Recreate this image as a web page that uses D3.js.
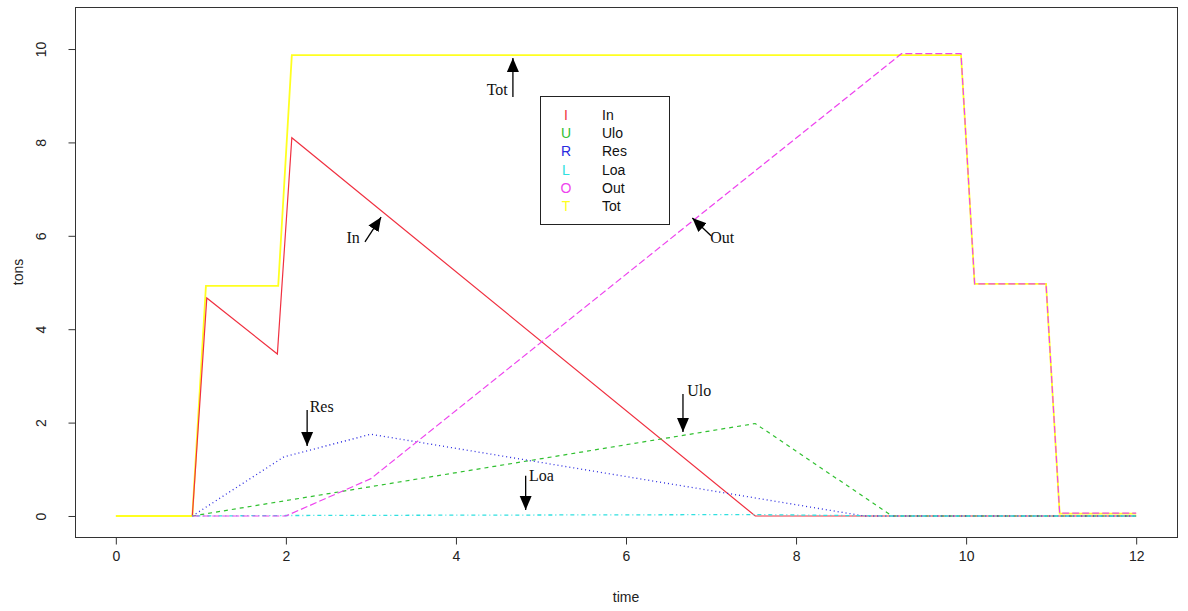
<!DOCTYPE html>
<html>
<head>
<meta charset="utf-8">
<script src="https://cdn.jsdelivr.net/npm/d3@7"></script>
<style>
  html, body { margin: 0; padding: 0; background: #fff; }
  svg { display: block; }
</style>
</head>
<body>
<svg id="chart" width="1188" height="611"></svg>
<script>
// ---- data ----
const timeTot = [0, 0.9, 1.06, 1.91, 2.07, 9.94, 10.1, 10.94, 11.1, 12];
const valTot  = [0, 0, 4.93, 4.93, 9.87, 9.87, 4.97, 4.97, 0.05, 0.05];

const timeIn = [0.9, 1.07, 1.9, 2.07, 7.52, 12];
const valIn  = [0, 4.67, 3.47, 8.1, 0, 0];

const timeUlo = [0.9, 7.52, 9.13, 12];
const valUlo  = [0, 1.98, 0, 0];

const timeRes = [0.9, 1.98, 3.0, 8.8, 12];
const valRes  = [0, 1.27, 1.75, 0, 0];

const timeLoa = [0.9, 2.0, 7.5, 9.1, 12];
const valLoa  = [0, 0.01, 0.03, 0, 0];

const timeOut = [0.9, 2.0, 3.0, 9.24, 9.94, 10.1, 10.94, 11.1, 12];
const valOut  = [0, 0, 0.8, 9.9, 9.9, 4.97, 4.97, 0.06, 0.06];

const seriesNames  = ["In", "Ulo", "Res", "Loa", "Out", "Tot"];
const legendLetters = ["I", "U", "R", "L", "O", "T"];
const seriesColors = ["#f03040", "#30c030", "#2a2ae0", "#30e0e0", "#ee44ee", "#ffff20"];

const xTicks = [0, 2, 4, 6, 8, 10, 12];
const yTicks = [0, 2, 4, 6, 8, 10];

// annotations: label, text position (baseline), anchor, arrow from (x0,y0) to (x1,y1), data units
const annLabels = ["Tot", "In", "Out", "Res", "Ulo", "Loa"];
const annTextX  = [4.61, 2.87, 6.99, 2.28, 6.72, 4.86];
const annTextY  = [9.01, 5.85, 5.85, 2.23, 2.57, 0.75];
const annAnchor = ["end", "end", "start", "start", "start", "start"];
const annX0 = [4.67, 2.93, 7.0, 2.25, 6.67, 4.82];
const annY0 = [8.97, 5.87, 6.0, 2.27, 2.61, 0.86];
const annX1 = [4.67, 3.12, 6.78, 2.25, 6.67, 4.82];
const annY1 = [9.81, 6.40, 6.38, 1.50, 1.80, 0.13];

// ---- layout ----
const svg = d3.select("#chart");
const plotL = 75, plotR = 1177, plotT = 7, plotB = 537;

const x = d3.scaleLinear().domain([-0.48, 12.48]).range([plotL, plotR]);
const y = d3.scaleLinear().domain([-0.45, 10.9]).range([plotB, plotT]);

const line = d3.line().x(d => x(d[0])).y(d => y(d[1]));

const series = [
  { name: "Tot", t: timeTot, v: valTot, color: seriesColors[5], dash: null, w: 1.8 },
  { name: "In",  t: timeIn,  v: valIn,  color: seriesColors[0], dash: null, w: 1.2 },
  { name: "Ulo", t: timeUlo, v: valUlo, color: seriesColors[1], dash: "4,4", w: 1.2 },
  { name: "Res", t: timeRes, v: valRes, color: seriesColors[2], dash: "1,3", w: 1.3 },
  { name: "Loa", t: timeLoa, v: valLoa, color: seriesColors[3], dash: "1,3,4,3", w: 1.3 },
  { name: "Out", t: timeOut, v: valOut, color: seriesColors[4], dash: "7,3", w: 1.2 }
];

const plot = svg.append("g");
series.forEach(s => {
  const pts = s.t.map((t, i) => [t, s.v[i]]);
  plot.append("path")
    .datum(pts)
    .attr("fill", "none")
    .attr("stroke", s.color)
    .attr("stroke-width", s.w)
    .attr("stroke-dasharray", s.dash)
    .attr("d", line);
});

// box
svg.append("rect")
  .attr("x", plotL + 0.5).attr("y", plotT + 0.5)
  .attr("width", plotR - plotL).attr("height", plotB - plotT)
  .attr("fill", "none").attr("stroke", "#333").attr("stroke-width", 1);

// axes
const fontSans = "'Liberation Sans', Arial, sans-serif";
const xAxis = svg.append("g")
  .attr("transform", `translate(0,${plotB + 0.5})`)
  .call(d3.axisBottom(x).tickValues(xTicks).tickSize(7).tickPadding(7).tickFormat(d3.format("d")));
xAxis.select(".domain").remove();
xAxis.selectAll("line").attr("stroke", "#333");
xAxis.selectAll("text").attr("font-family", fontSans).attr("font-size", 14).attr("fill", "#222");

const yAxis = svg.append("g")
  .attr("transform", `translate(${plotL + 0.5},0)`)
  .call(d3.axisLeft(y).tickValues(yTicks).tickSize(7).tickFormat(d3.format("d")));
yAxis.select(".domain").remove();
yAxis.selectAll("line").attr("stroke", "#333");
yAxis.selectAll("text")
  .attr("font-family", fontSans).attr("font-size", 14).attr("fill", "#222")
  .attr("x", null).attr("dy", null)
  .attr("text-anchor", "middle")
  .attr("transform", "translate(-30,0) rotate(-90)");

// axis titles
svg.append("text")
  .attr("x", (plotL + plotR) / 2).attr("y", 602)
  .attr("text-anchor", "middle")
  .attr("font-family", fontSans).attr("font-size", 14).attr("fill", "#222")
  .text("time");
svg.append("text")
  .attr("transform", `translate(23,${(plotT + plotB) / 2}) rotate(-90)`)
  .attr("text-anchor", "middle")
  .attr("font-family", fontSans).attr("font-size", 14).attr("fill", "#222")
  .text("tons");

// arrows
const defs = svg.append("defs");
defs.append("marker")
  .attr("id", "arrowhead")
  .attr("markerUnits", "userSpaceOnUse")
  .attr("markerWidth", 16).attr("markerHeight", 14)
  .attr("viewBox", "0 -7 16 14")
  .attr("refX", 14).attr("refY", 0)
  .attr("orient", "auto")
  .append("path")
  .attr("d", "M0,-6L14,0L0,6Z")
  .attr("fill", "#000");

const ann = svg.append("g");
annLabels.forEach((lab, i) => {
  ann.append("line")
    .attr("x1", x(annX0[i])).attr("y1", y(annY0[i]))
    .attr("x2", x(annX1[i])).attr("y2", y(annY1[i]))
    .attr("stroke", "#000").attr("stroke-width", 1.3)
    .attr("marker-end", "url(#arrowhead)");
  ann.append("text")
    .attr("x", x(annTextX[i])).attr("y", y(annTextY[i]))
    .attr("text-anchor", annAnchor[i])
    .attr("font-family", "'Liberation Serif', 'Times New Roman', serif")
    .attr("font-size", 16).attr("fill", "#111")
    .text(lab);
});

// legend
const lg = svg.append("g");
lg.append("rect")
  .attr("x", 540.5).attr("y", 96.5).attr("width", 129).attr("height", 128)
  .attr("fill", "#fff").attr("stroke", "#222").attr("stroke-width", 1);
seriesNames.forEach((n, i) => {
  const cy = 115 + i * 18.2;
  lg.append("text")
    .attr("x", 566).attr("y", cy).attr("dy", "0.35em")
    .attr("text-anchor", "middle")
    .attr("font-family", fontSans).attr("font-size", 14)
    .attr("fill", seriesColors[i])
    .text(legendLetters[i]);
  lg.append("text")
    .attr("x", 602).attr("y", cy).attr("dy", "0.35em")
    .attr("font-family", fontSans).attr("font-size", 14)
    .attr("fill", "#111")
    .text(n);
});
</script>
</body>
</html>
